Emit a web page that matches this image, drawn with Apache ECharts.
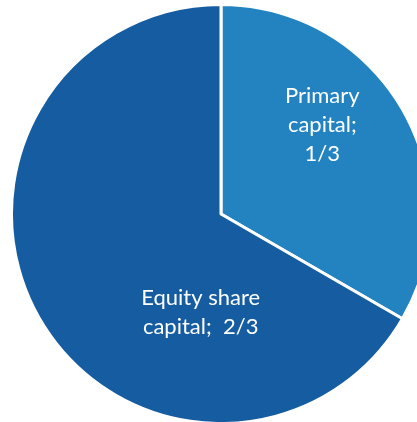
<!DOCTYPE html>
<html>
<head>
<meta charset="utf-8">
<script src="https://cdn.jsdelivr.net/npm/echarts@6/dist/echarts.min.js"></script>
<style>
  html, body { margin: 0; padding: 0; background: #ffffff; }
  #chart { width: 417px; height: 422px; }
</style>
</head>
<body>
<div id="chart"></div>
<script>
// Capital structure shares
const categories = ['Primary capital;', 'Equity share capital;'];
const shareValues = [1, 2];
const shareLabels = ['1/3', '2/3'];
const sliceColors = ['#2283C0', '#165CA0'];

// Label text per slice (line breaks as in the layout)
const labelText = [
  'Primary\ncapital;\n1/3',
  'Equity share\ncapital;  2/3'
];
// Shifts from the default inside position
const labelShift = [[8, -35], [73, 45]];

const chart = echarts.init(document.getElementById('chart'), null, { renderer: 'canvas' });

chart.setOption({
  animation: false,
  backgroundColor: '#ffffff',
  series: [{
    type: 'pie',
    center: [221, 214],
    radius: [0, 209.5],
    startAngle: 90,
    clockwise: true,
    silent: true,
    itemStyle: { borderColor: '#ffffff', borderWidth: 3 },
    label: {
      show: true,
      position: 'inside',
      color: '#ffffff',
      fontFamily: 'Lato',
      fontSize: 22,
      lineHeight: 29,
      align: 'center',
      formatter: p => labelText[p.dataIndex]
    },
    labelLine: { show: false },
    labelLayout: p => ({ dx: labelShift[p.dataIndex][0], dy: labelShift[p.dataIndex][1] }),
    data: categories.map((c, i) => ({
      name: c + ' ' + shareLabels[i],
      value: shareValues[i],
      itemStyle: { color: sliceColors[i] }
    }))
  }]
});
</script>
</body>
</html>
